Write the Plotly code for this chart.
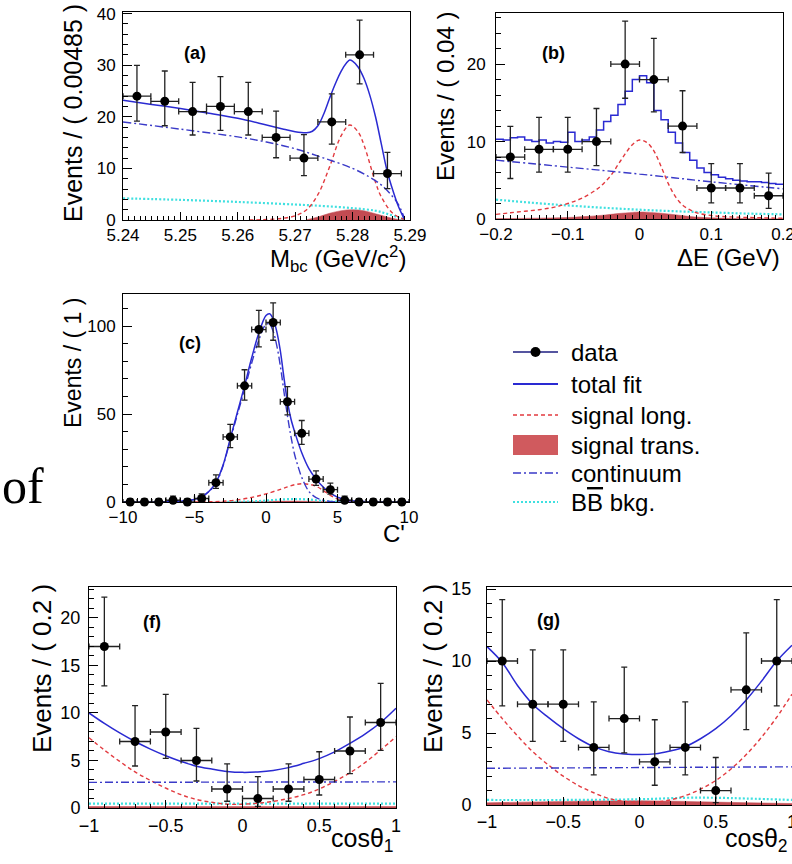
import plotly.graph_objects as go

# ---------------- panel (a): Mbc ----------------
a_x = [5.24243, 5.24728, 5.25213, 5.25698, 5.26183, 5.26668, 5.27153, 5.27638, 5.28123, 5.28608]
a_y = [24, 23, 21, 22, 21, 16, 12, 19, 32, 9]
a_eup = [5.97, 5.87, 5.66, 5.76, 5.66, 5.08, 4.56, 5.44, 6.72, 4.11]
a_edn = [4.85, 4.74, 4.53, 4.64, 4.53, 3.94, 3.41, 4.30, 5.62, 2.94]
a_fit_x = [5.240, 5.245, 5.250, 5.255, 5.260, 5.265, 5.268, 5.270, 5.272, 5.273, 5.274, 5.275, 5.276,
           5.277, 5.278, 5.279, 5.2795, 5.280, 5.281, 5.282, 5.283, 5.284, 5.285, 5.286, 5.287, 5.288, 5.289]
a_fit_y = [23.2, 22.4, 21.6, 20.7, 19.7, 18.4, 17.6, 17.1, 16.9, 17.2, 18.3, 20.6, 23.6,
           26.4, 28.8, 30.5, 31.0, 30.8, 29.6, 27.4, 24.2, 20.0, 14.8, 9.6, 5.8, 2.6, 0.2]
a_sl_x = [5.262, 5.266, 5.268, 5.270, 5.272, 5.274, 5.276, 5.278, 5.2795, 5.281, 5.282, 5.284, 5.285, 5.287, 5.289]
a_sl_y = [0.0, 0.15, 0.35, 0.8, 2.0, 5.0, 10.3, 16.3, 18.4, 17.0, 14.5, 7.3, 4.5, 1.3, 0.1]
a_cont_x = [5.240, 5.250, 5.260, 5.265, 5.270, 5.275, 5.280, 5.283, 5.285, 5.287, 5.288, 5.289]
a_cont_y = [19.0, 17.6, 16.1, 15.1, 13.8, 12.0, 10.0, 8.3, 6.8, 4.5, 3.0, 0.5]
a_bb_x = [5.240, 5.250, 5.260, 5.270, 5.275, 5.280, 5.284, 5.286, 5.288, 5.289]
a_bb_y = [4.2, 3.9, 3.5, 3.0, 2.7, 2.3, 1.8, 1.2, 0.5, 0.1]
a_st_x = [5.272, 5.274, 5.276, 5.278, 5.280, 5.282, 5.284, 5.286, 5.288, 5.289]
a_st_y = [0.05, 0.6, 1.3, 1.8, 2.0, 1.8, 1.2, 0.6, 0.1, 0.0]

# ---------------- panel (b): Delta E ----------------
b_x = [-0.18, -0.14, -0.10, -0.06, -0.02, 0.02, 0.06, 0.10, 0.14, 0.18]
b_y = [8, 9, 9, 10, 20, 18, 12, 4, 4, 3]
b_eup = [3.95, 4.11, 4.11, 4.27, 5.55, 5.32, 4.56, 3.16, 3.16, 2.92]
b_edn = [2.77, 2.94, 2.94, 3.11, 4.41, 4.18, 3.41, 1.91, 1.91, 1.63]
b_fit_x = [-0.20, -0.19, -0.18, -0.17, -0.16, -0.15, -0.14, -0.13, -0.12, -0.11, -0.10,
           -0.09, -0.08, -0.07, -0.06, -0.05, -0.04, -0.03, -0.02, -0.01, 0.00,
           0.01, 0.02, 0.03, 0.04, 0.05, 0.06, 0.07, 0.08, 0.09, 0.10,
           0.11, 0.12, 0.13, 0.14, 0.15, 0.16, 0.17, 0.18, 0.19, 0.20]
b_fit_y = [10.3, 10.2, 10.5, 10.6, 10.2, 10.0, 10.2, 9.8, 10.0, 9.9, 11.2,
           10.0, 10.2, 10.6, 11.5, 12.6, 13.4, 14.8, 16.5, 18.0, 18.5,
           17.6, 14.0, 12.8, 11.2, 9.8, 8.6, 7.6, 6.6, 6.0, 5.7,
           5.4, 5.2, 5.0, 4.9, 4.8, 4.8, 4.7, 4.6, 4.5, 4.4]
b_sl_x = [-0.20, -0.18, -0.16, -0.14, -0.12, -0.10, -0.08, -0.06, -0.05, -0.04, -0.03, -0.02, -0.01,
          0.00, 0.01, 0.02, 0.03, 0.04, 0.05, 0.06, 0.07, 0.08, 0.10, 0.12, 0.15, 0.20]
b_sl_y = [0.6, 0.8, 1.0, 1.2, 1.5, 2.0, 2.7, 3.8, 4.6, 5.6, 7.0, 8.4, 9.6,
          10.2, 9.9, 8.8, 6.8, 4.6, 2.9, 1.8, 1.2, 0.8, 0.45, 0.3, 0.2, 0.1]
b_cont_x = [-0.2, -0.1, 0.0, 0.1, 0.2]
b_cont_y = [7.6, 6.7, 5.8, 4.8, 3.9]
b_bb_x = [-0.2, -0.15, -0.1, -0.05, 0.0, 0.05, 0.1, 0.15, 0.2]
b_bb_y = [2.5, 2.1, 1.75, 1.45, 1.2, 1.0, 0.85, 0.7, 0.6]
b_st_x = [-0.2, -0.15, -0.1, -0.07, -0.05, -0.03, -0.01, 0.0, 0.01, 0.03, 0.05, 0.07, 0.1, 0.15, 0.2]
b_st_y = [0.05, 0.1, 0.2, 0.35, 0.5, 0.7, 0.85, 0.9, 0.88, 0.75, 0.55, 0.33, 0.15, 0.05, 0.02]

# ---------------- panel (c): C' ----------------
c_x = [-9.5, -8.5, -7.5, -6.5, -5.5, -4.5, -3.5, -2.5, -1.5, -0.5, 0.5, 1.5, 2.5, 3.5, 4.5, 5.5, 6.5, 7.5, 8.5, 9.5]
c_y = [0, 0, 0, 1, 0, 2, 11, 37, 66, 98, 102, 57, 39, 13, 7, 1, 0, 0, 0, 0]
c_eup = [1.84, 1.84, 1.84, 2.30, 1.84, 2.64, 4.42, 7.14, 9.16, 10.93, 11.13, 8.58, 7.31, 4.70, 3.77, 2.30, 1.84, 1.84, 1.84, 1.84]
c_edn = [0, 0, 0, 0.83, 0, 1.29, 3.26, 6.06, 8.11, 9.89, 10.09, 7.53, 6.23, 3.55, 2.58, 0.83, 0, 0, 0, 0]
c_fit_x = [-10, -8, -7, -6, -5.5, -5, -4.5, -4, -3.5, -3, -2.5, -2, -1.5, -1, -0.5, 0, 0.25, 0.5, 0.75,
           1, 1.25, 1.5, 1.75, 2, 2.5, 3, 3.5, 4, 4.5, 5, 5.5, 6, 7, 8, 10]
c_fit_y = [0, 0.05, 0.15, 0.4, 0.8, 1.5, 3.0, 6.0, 11.0, 21.0, 36.0, 51.0, 66.0, 82.0, 96.0, 106.0, 107.0, 104.0, 97.0,
           86.0, 71.0, 57.0, 47.0, 40.0, 28.0, 19.0, 13.0, 8.5, 5.0, 2.8, 1.5, 0.7, 0.2, 0.05, 0]
c_cont_x = [-10, -8, -7, -6, -5, -4.5, -4, -3.5, -3, -2.5, -2, -1.5, -1, -0.5, 0, 0.25, 0.5, 0.75, 1,
            1.25, 1.5, 1.75, 2, 2.25, 2.5, 3, 3.5, 4, 4.5, 5, 6, 10]
c_cont_y = [0, 0.05, 0.15, 0.4, 1.4, 2.8, 5.9, 10.7, 20.6, 35.2, 49.8, 64.0, 79.0, 92.0, 101.0, 101.0, 97.0, 89.0, 77.5,
            63.0, 49.0, 37.0, 27.0, 20.0, 14.0, 6.0, 2.5, 1.0, 0.3, 0.1, 0, 0]
c_sl_x = [-5, -4, -3, -2, -1, 0, 1, 1.5, 2, 2.5, 3, 3.5, 4, 4.5, 5, 5.5, 6, 7]
c_sl_y = [0, 0.1, 0.4, 1.2, 2.6, 4.6, 7.2, 8.6, 9.8, 10.4, 10.0, 9.0, 6.5, 3.8, 1.8, 0.7, 0.2, 0]
c_bb_x = [-3, -2, -1, 0, 1, 2, 3, 4, 5, 6]
c_bb_y = [0, 0.1, 0.3, 0.8, 1.4, 1.7, 1.4, 0.6, 0.1, 0]
c_st_x = [-4, -2, 0, 2, 4, 6]
c_st_y = [0, 0.2, 0.4, 0.5, 0.3, 0]

# ---------------- panel (f): cos theta_1 ----------------
cos_bins = [-0.9, -0.7, -0.5, -0.3, -0.1, 0.1, 0.3, 0.5, 0.7, 0.9]
cos_grid = [-1.0, -0.9, -0.8, -0.7, -0.6, -0.5, -0.4, -0.3, -0.2, -0.1, 0.0,
            0.1, 0.2, 0.3, 0.4, 0.5, 0.6, 0.7, 0.8, 0.9, 1.0]
f_y = [17, 7, 8, 5, 2, 1, 2, 3, 6, 9]
f_eup = [5.20, 3.77, 3.95, 3.38, 2.64, 2.30, 2.64, 2.92, 3.58, 4.11]
f_edn = [4.15, 2.58, 2.77, 2.16, 1.29, 0.83, 1.29, 1.63, 2.38, 2.94]
f_fit_y = [10.0, 8.9, 7.9, 7.0, 6.2, 5.5, 4.9, 4.4, 4.1, 3.85, 3.75, 3.8, 3.95, 4.25, 4.7, 5.2, 5.9, 6.8, 7.8, 9.0, 10.5]
f_sl_y = [7.4, 6.1, 4.9, 3.8, 2.9, 2.1, 1.4, 0.9, 0.6, 0.4, 0.4, 0.5, 0.7, 1.0, 1.4, 2.0, 2.8, 3.7, 4.8, 6.1, 7.5]
f_cont_x = [-1.0, 1.0]
f_cont_y = [2.7, 2.75]
f_bb_x = [-1.0, 1.0]
f_bb_y = [0.45, 0.45]
f_st_x = [-1.0, 0.0, 1.0]
f_st_y = [0.15, 0.15, 0.15]

# ---------------- panel (g): cos theta_2 ----------------
g_y = [10, 7, 7, 4, 6, 3, 4, 1, 8, 10]
g_eup = [4.27, 3.77, 3.77, 3.16, 3.58, 2.92, 3.16, 2.30, 3.95, 4.27]
g_edn = [3.11, 2.58, 2.58, 1.91, 2.38, 1.63, 1.91, 0.83, 2.77, 3.11]
g_fit_y = [11.0, 9.9, 8.3, 7.0, 6.1, 5.3, 4.6, 4.05, 3.7, 3.55, 3.5, 3.55, 3.75, 4.05, 4.6, 5.3, 6.2, 7.3, 8.6, 10.0, 11.1]
g_sl_y = [7.3, 6.0, 4.8, 3.7, 2.8, 2.0, 1.35, 0.85, 0.45, 0.25, 0.15, 0.2, 0.35, 0.65, 1.1, 1.7, 2.5, 3.5, 4.7, 6.1, 7.7]
g_cont_x = [-1.0, 1.0]
g_cont_y = [2.55, 2.65]
g_bb_x = [-1.0, -0.5, 0.0, 0.3, 0.5, 0.7, 1.0]
g_bb_y = [0.35, 0.35, 0.4, 0.5, 0.5, 0.45, 0.35]
g_st_x = [-1.0, -0.5, 0.0, 0.5, 1.0]
g_st_y = [0.15, 0.25, 0.3, 0.2, 0.1]

legend_labels = ["data", "total fit", "signal long.", "signal trans.", "continuum",
                 "B<span style='text-decoration:overline'>B</span> bkg."]

# ---------------- styling ----------------
W, H = 792, 864
FONT = "Liberation Sans, Arial, Helvetica, sans-serif"
BLUE = "#2a2ad2"
CONT = "#3a3ac8"
RED = "#e23a3f"
CYAN = "#3fe0e0"
FILL = "#c24b52"
NAVY = "#1c1c80"


def fx(p):
    return p / W


def fy(p):
    return 1 - p / H


fig = go.Figure()

panels = [
    dict(n=1, data=(a_x, a_y, a_eup, a_edn, 0.002425),
         fit=(a_fit_x, a_fit_y, 'spline'), sl=(a_sl_x, a_sl_y), cont=(a_cont_x, a_cont_y),
         bb=(a_bb_x, a_bb_y), st=(a_st_x, a_st_y),
         dx=(123, 410), dy=(12, 220), xr=[5.24, 5.29001], yr=[0, 40.3],
         xdt=0.01, xt0=5.24, xm=0.001, ydt=10, ym=2, xfmt='.2f', tfs=17, ystand=3, xstand=0),
    dict(n=2, data=(b_x, b_y, b_eup, b_edn, 0.02),
         fit=(b_fit_x, b_fit_y, 'hv'), sl=(b_sl_x, b_sl_y), cont=(b_cont_x, b_cont_y),
         bb=(b_bb_x, b_bb_y), st=(b_st_x, b_st_y),
         dx=(496, 783), dy=(13, 219), xr=[-0.2, 0.20001], yr=[0, 26.6],
         xdt=0.1, xt0=0, xm=0.01, ydt=10, ym=2, xfmt='', tfs=17, ystand=6, xstand=0),
    dict(n=3, data=(c_x, c_y, c_eup, c_edn, 0.5),
         fit=(c_fit_x, c_fit_y, 'spline'), sl=(c_sl_x, c_sl_y), cont=(c_cont_x, c_cont_y),
         bb=(c_bb_x, c_bb_y), st=(c_st_x, c_st_y),
         dx=(123, 409), dy=(294, 502), xr=[-10, 10.0001], yr=[0, 118.2],
         xdt=5, xt0=0, xm=1, ydt=50, ym=10, xfmt='', tfs=17, ystand=3, xstand=0),
    dict(n=4, data=(cos_bins, f_y, f_eup, f_edn, 0.1),
         fit=(cos_grid, f_fit_y, 'spline'), sl=(cos_grid, f_sl_y), cont=(f_cont_x, f_cont_y),
         bb=(f_bb_x, f_bb_y), st=(f_st_x, f_st_y),
         dx=(89, 396), dy=(587, 808), xr=[-1, 1.00001], yr=[0, 23.26],
         xdt=0.5, xt0=0, xm=0.1, ydt=5, ym=1, xfmt='', tfs=18, ystand=4, xstand=1),
    dict(n=5, data=(cos_bins, g_y, g_eup, g_edn, 0.1),
         fit=(cos_grid, g_fit_y, 'spline'), sl=(cos_grid, g_sl_y), cont=(g_cont_x, g_cont_y),
         bb=(g_bb_x, g_bb_y), st=(g_st_x, g_st_y),
         dx=(487, 792), dy=(587, 805), xr=[-1, 1.00001], yr=[0, 15.14],
         xdt=0.5, xt0=0, xm=0.1, ydt=5, ym=1, xfmt='', tfs=18, ystand=11, xstand=0),
]

layout_axes = {}
for p in panels:
    n = p['n']
    xa = 'x' if n == 1 else f'x{n}'
    ya = 'y' if n == 1 else f'y{n}'
    common = dict(xaxis=xa, yaxis=ya, showlegend=False, hoverinfo='skip')
    sx, sy = p['st']
    fig.add_trace(go.Scatter(x=sx, y=sy, mode='lines', fill='tozeroy', fillcolor=FILL,
                             line=dict(color=FILL, width=0.5, shape='spline'), **common))
    bx, by = p['bb']
    fig.add_trace(go.Scatter(x=bx, y=by, mode='lines',
                             line=dict(color=CYAN, width=2.2, dash='2px,2px', shape='spline'), **common))
    lx, ly = p['sl']
    fig.add_trace(go.Scatter(x=lx, y=ly, mode='lines',
                             line=dict(color=RED, width=1.4, dash='4px,3px', shape='spline'), **common))
    cx, cy = p['cont']
    fig.add_trace(go.Scatter(x=cx, y=cy, mode='lines',
                             line=dict(color=CONT, width=1.4, dash='8px,3px,2px,3px', shape='spline'), **common))
    tx, ty, tshape = p['fit']
    fig.add_trace(go.Scatter(x=tx, y=ty, mode='lines',
                             line=dict(color=BLUE, width=1.5, shape=tshape), **common))
    dxv, dyv, eu, ed, xe = p['data']
    fig.add_trace(go.Scatter(x=dxv, y=dyv, mode='markers',
                             marker=dict(color='black', size=9),
                             error_y=dict(type='data', symmetric=False, array=eu, arrayminus=ed,
                                          color='#222', thickness=1.3, width=3),
                             error_x=dict(type='constant', value=xe, color='#222', thickness=1.3, width=3),
                             cliponaxis=False, **common))

    axkey_x = 'xaxis' if n == 1 else f'xaxis{n}'
    axkey_y = 'yaxis' if n == 1 else f'yaxis{n}'
    base = dict(showline=True, linecolor='black', linewidth=1, mirror=True, ticks='inside',
                tickwidth=1, tickcolor='black', showgrid=False, zeroline=False, automargin=False,
                tickfont=dict(family=FONT, size=p['tfs'], color='black'))
    layout_axes[axkey_x] = dict(base, domain=[fx(p['dx'][0]), fx(p['dx'][1])], anchor=ya,
                                range=p['xr'], tick0=p['xt0'], dtick=p['xdt'], ticklen=8,
                                tickformat=p['xfmt'], ticklabeloverflow='allow',
                                ticklabelstandoff=p['xstand'],
                                minor=dict(ticks='inside', ticklen=4, dtick=p['xm'], tick0=p['xt0'],
                                           tickcolor='black', showgrid=False))
    layout_axes[axkey_y] = dict(base, domain=[fy(p['dy'][1]), fy(p['dy'][0])], anchor=xa,
                                range=p['yr'], tick0=0, dtick=p['ydt'], ticklen=9,
                                ticklabelstandoff=p['ystand'],
                                minor=dict(ticks='inside', ticklen=5, dtick=p['ym'], tick0=0,
                                           tickcolor='black', showgrid=False))

ann = []
# y axis titles
for txt, x, y, s in [("Events / ( 0.00485 )", 73, 113, 25), ("Events / ( 0.04 )", 446, 97, 24),
                     ("Events / ( 1 )", 73, 363, 23), ("Events / ( 0.2 )", 42, 669, 26),
                     ("Events / ( 0.2 )", 433, 669, 26)]:
    ann.append(dict(text=txt, x=fx(x), y=fy(y), xref='paper', yref='paper', textangle=-90,
                    xanchor='center', yanchor='middle', showarrow=False,
                    font=dict(family=FONT, size=s, color='black')))
# x axis titles
for txt, x, y, s in [("M<sub>bc</sub> (GeV/c<sup>2</sup>)", 408, 259, 24), ("ΔE (GeV)", 782, 257, 24),
                     ("C'", 407, 533, 24), ("cosθ<sub>1</sub>", 396, 840, 25),
                     ("cosθ<sub>2</sub>", 790, 840, 25)]:
    ann.append(dict(text=txt, x=fx(x), y=fy(y), xref='paper', yref='paper',
                    xanchor='right', yanchor='middle', showarrow=False,
                    font=dict(family=FONT, size=s, color='black')))
# panel labels
for txt, x, y in [("(a)", 195, 53), ("(b)", 553, 53), ("(c)", 190, 343), ("(f)", 152, 622), ("(g)", 548, 620)]:
    ann.append(dict(text=f"<b>{txt}</b>", x=fx(x), y=fy(y), xref='paper', yref='paper',
                    xanchor='center', yanchor='middle', showarrow=False,
                    font=dict(family=FONT, size=18, color='black')))
# stray body text from the page
ann.append(dict(text="of", x=0, y=fy(486), xref='paper', yref='paper', xanchor='left',
                yanchor='middle', showarrow=False,
                font=dict(family="Liberation Serif, Times New Roman, serif", size=50, color='black')))

# manual legend
rows = [352, 384, 415, 445, 473, 502]
shapes = []
x0, x1, xt = 513, 558, 569
for lab, yy in zip(legend_labels, rows):
    ann.append(dict(text=lab, x=fx(xt), y=fy(yy), xref='paper', yref='paper', xanchor='left',
                    yanchor='middle', showarrow=False, font=dict(family=FONT, size=24, color='black')))
shapes.append(dict(type='line', xref='paper', yref='paper', x0=fx(x0), x1=fx(x1), y0=fy(rows[0]), y1=fy(rows[0]),
                   line=dict(color=NAVY, width=1.5)))
shapes.append(dict(type='circle', xref='paper', yref='paper', x0=fx(530.5), x1=fx(540.5),
                   y0=fy(rows[0] + 5), y1=fy(rows[0] - 5), fillcolor='black', line=dict(color='black', width=0)))
shapes.append(dict(type='line', xref='paper', yref='paper', x0=fx(x0), x1=fx(x1), y0=fy(rows[1]), y1=fy(rows[1]),
                   line=dict(color=BLUE, width=2)))
shapes.append(dict(type='line', xref='paper', yref='paper', x0=fx(x0), x1=fx(x1), y0=fy(rows[2]), y1=fy(rows[2]),
                   line=dict(color=RED, width=1.5, dash='4px,3px')))
shapes.append(dict(type='rect', xref='paper', yref='paper', x0=fx(x0), x1=fx(x1), y0=fy(rows[3] + 10),
                   y1=fy(rows[3] - 10), fillcolor='#d05a5e', line=dict(width=0)))
shapes.append(dict(type='line', xref='paper', yref='paper', x0=fx(x0), x1=fx(x1), y0=fy(rows[4]), y1=fy(rows[4]),
                   line=dict(color=CONT, width=1.5, dash='8px,3px,2px,3px')))
shapes.append(dict(type='line', xref='paper', yref='paper', x0=fx(x0), x1=fx(x1), y0=fy(rows[5]), y1=fy(rows[5]),
                   line=dict(color=CYAN, width=2, dash='2px,2px')))

fig.update_layout(width=W, height=H, autosize=False,
                  margin=dict(l=0, r=0, t=0, b=0, pad=0, autoexpand=False),
                  paper_bgcolor='white', plot_bgcolor='white',
                  font=dict(family=FONT, color='black'), showlegend=False,
                  annotations=ann, shapes=shapes, **layout_axes)

fig.write_html("out.html",
               config={'displayModeBar': False, 'staticPlot': True},
               post_script="document.body.style.margin='0';document.body.style.padding='0';"
                           "document.body.style.overflow='hidden';")
